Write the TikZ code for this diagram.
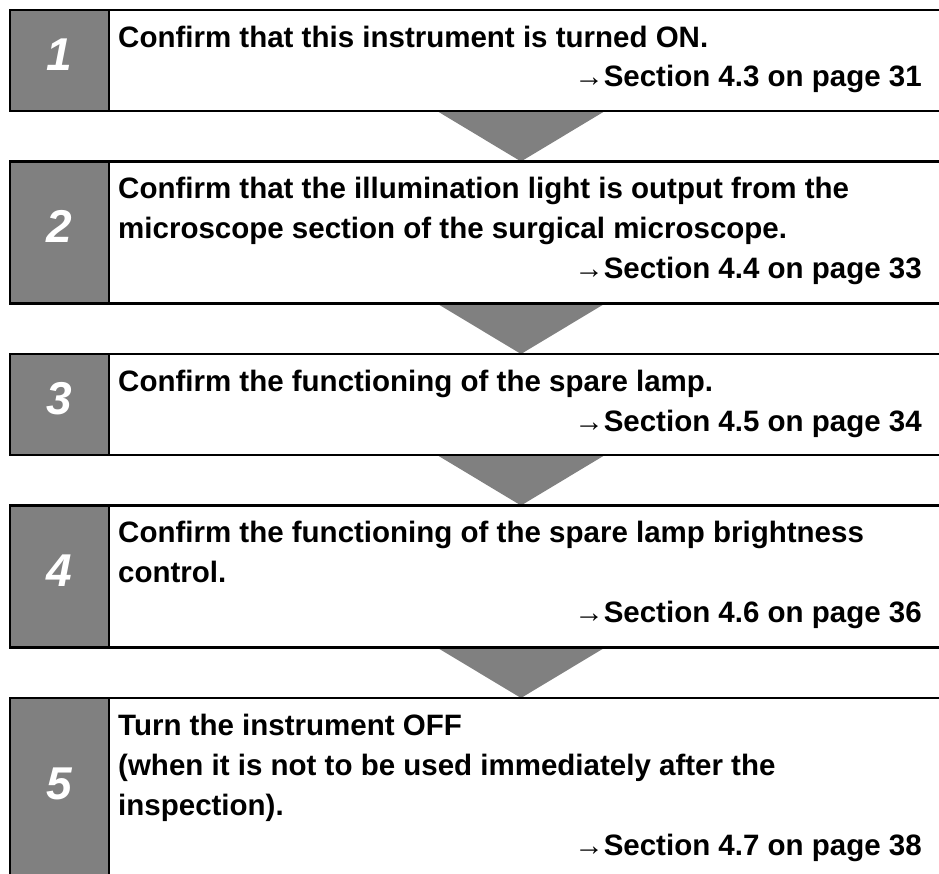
\documentclass[tikz,border=0pt]{standalone}
\usepackage{fontspec}
\setmainfont{Liberation Sans}
\usetikzlibrary{positioning,calc,backgrounds}
\definecolor{cellgray}{HTML}{808080}

\begin{document}
\begin{tikzpicture}[
    x=1pt,y=-1pt,
    frame/.style={draw=black,line width=2.4pt,minimum width=1022pt,minimum height=#1,anchor=north west,inner sep=0pt,outer sep=0pt},
    numcell/.style={frame=#1,fill=cellgray,minimum width=99pt,text=white,font=\fontsize{46}{46}\selectfont\bfseries\itshape,text depth=12pt},
    steptext/.style={anchor=north west,align=left,inner sep=0pt,font=\fontsize{29.5}{40}\selectfont\bfseries},
    secref/.style={anchor=base east,inner sep=0pt,font=\fontsize{29.5}{40}\selectfont\bfseries},
    flow/.style={fill=cellgray}
  ]
  \useasboundingbox (0,0) rectangle (939,874);
  \clip (0,0) rectangle (939,874);
  \node[frame=101pt] (f1) at (10,10) {};
  \node[frame=142pt,below=50.5pt of f1] (f2) {};
  \node[frame=101pt,below=50.5pt of f2] (f3) {};
  \node[frame=142pt,below=50.5pt of f3] (f4) {};
  \node[frame=183pt,below=50.5pt of f4] (f5) {};
  \node[numcell=101pt] (n1) at (f1.north west) {1};
  \node[numcell=142pt] (n2) at (f2.north west) {2};
  \node[numcell=101pt] (n3) at (f3.north west) {3};
  \node[numcell=142pt] (n4) at (f4.north west) {4};
  \node[numcell=183pt] (n5) at (f5.north west) {5};
  \node[steptext] (t1) at ($(f1.north west)+(108,15.5)$) {Confirm that this instrument is turned ON.};
  \node[steptext] (t2) at ($(f2.north west)+(108,15.5)$) {Confirm that the illumination light is output from the\\microscope section of the surgical microscope.};
  \node[steptext] (t3) at ($(f3.north west)+(108,15.5)$) {Confirm the functioning of the spare lamp.};
  \node[steptext] (t4) at ($(f4.north west)+(108,15.5)$) {Confirm the functioning of the spare lamp brightness\\control.};
  \node[steptext] (t5) at ($(f5.north west)+(108,15.5)$) {Turn the instrument OFF\\(when it is not to be used immediately after the\\inspection).};
  \node[secref] (r1) at ($(f1.north west)+(912,77)$) {→Section 4.3 on page 31};
  \node[secref] (r2) at ($(f2.north west)+(912,117)$) {→Section 4.4 on page 33};
  \node[secref] (r3) at ($(f3.north west)+(912,77)$) {→Section 4.5 on page 34};
  \node[secref] (r4) at ($(f4.north west)+(912,117)$) {→Section 4.6 on page 36};
  \node[secref] (r5) at ($(f5.north west)+(912,157)$) {→Section 4.7 on page 38};
  \begin{scope}[on background layer]
    \foreach \a/\b in {f1/f2,f2/f3,f3/f4,f4/f5}
      \fill[flow] ($(\a.south)+(-84,0)$) -- ($(\a.south)+(84,0)$) -- (\b.north) -- cycle;
  \end{scope}
\end{tikzpicture}
\end{document}
